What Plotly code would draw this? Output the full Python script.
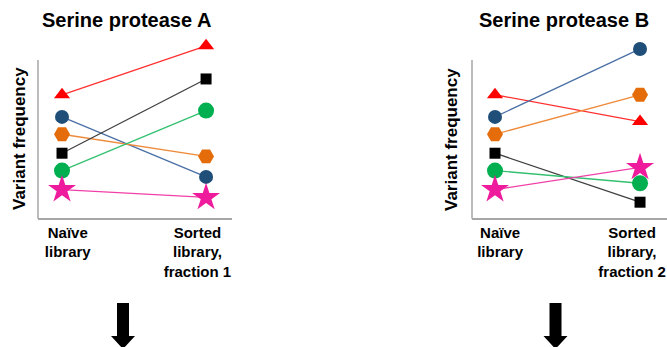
import plotly.graph_objects as go

W, H = 667, 347

stages = ["Naïve<br>library", "Sorted<br>library,<br>fraction 1"]
stages_b = ["Naïve<br>library", "Sorted<br>library,<br>fraction 2"]

variants = ["triangle", "blue", "hexagon", "square", "circle", "star"]
naive_a = [7.8, 6.4, 5.3, 4.1, 3.0, 1.8]
sorted_a = [10.9, 2.6, 3.9, 8.8, 6.8, 1.3]
naive_b = [7.8, 6.4, 5.3, 4.1, 3.0, 1.8]
sorted_b = [6.1, 10.7, 7.8, 1.0, 2.2, 3.2]

symbols = ["triangle-up", "circle", "hexagon2", "square", "circle", "star"]
sizes = [14, 14, 16, 11, 16, 21]
marker_colors = ["#FF0000", "#1F4E79", "#E46C0A", "#000000", "#00B050", "#EE1C9C"]
line_colors = ["#FF3030", "#4A6FA5", "#EE8A3A", "#404040", "#33C070", "#F040A8"]

fig = go.Figure()

def add_panel(naive, sorted_, xa, ya):
    for i in range(len(variants)):
        fig.add_trace(go.Scatter(
            x=[0, 1], y=[naive[i], sorted_[i]], mode="lines+markers",
            xaxis=xa, yaxis=ya, cliponaxis=False, showlegend=False,
            hoverinfo="skip",
            line=dict(color=line_colors[i], width=1.3),
            marker=dict(symbol=symbols[i], size=sizes[i], color=marker_colors[i],
                        line=dict(width=0)),
        ))

add_panel(naive_a, sorted_a, "x", "y")
add_panel(naive_b, sorted_b, "x2", "y2")

def px_x(p):
    return p / W

def px_y(p):
    return 1 - p / H

axis_common = dict(showgrid=False, zeroline=False, linecolor="#A6A6A6",
                   linewidth=1.5, ticks="", mirror=False, fixedrange=True)
tickfont = dict(size=15, family="Liberation Sans, Arial", weight="bold", color="#000000")
y_top = (218 - 28) / 15.8

fig.update_layout(
    width=W, height=H, margin=dict(l=0, r=0, t=0, b=0),
    paper_bgcolor="white", plot_bgcolor="rgba(0,0,0,0)",
    font=dict(family="Liberation Sans, Arial, sans-serif", color="#000000"),
    xaxis=dict(domain=[px_x(38), px_x(232)], range=[-0.1667, 1.18], showline=True,
               tickmode="array", tickvals=[0.04, 0.94], ticktext=stages,
               tickfont=tickfont, anchor="y", **axis_common),
    yaxis=dict(domain=[px_y(218), px_y(28)], range=[0, y_top], showticklabels=False,
               showline=False, anchor="x", **axis_common),
    xaxis2=dict(domain=[px_x(472), 1.0], range=[-0.1586, 1.186], showline=True,
                tickmode="array", tickvals=[0.035, 0.945], ticktext=stages_b,
                tickfont=tickfont, anchor="y2", **axis_common),
    yaxis2=dict(domain=[px_y(218), px_y(28)], range=[0, y_top], showticklabels=False,
                showline=False, anchor="x2", **axis_common),
)

annots = [
    dict(text="<b>Serine protease A</b>", x=px_x(126), y=px_y(20), font=dict(size=20)),
    dict(text="<b>Serine protease B</b>", x=px_x(564), y=px_y(20), font=dict(size=20)),
    dict(text="<b>Variant frequency</b>", x=px_x(20), y=px_y(139), font=dict(size=17), textangle=-90),
    dict(text="<b>Variant frequency</b>", x=px_x(452), y=px_y(139), font=dict(size=17), textangle=-90),
]
for a in annots:
    fig.add_annotation(xref="paper", yref="paper", showarrow=False,
                       xanchor="center", yanchor="middle", **a)

# vertical axis lines (left edge of each panel)
for x0 in [38, 472]:
    fig.add_shape(type="line", xref="paper", yref="paper",
                  x0=px_x(x0), x1=px_x(x0), y0=px_y(218.7), y1=px_y(60),
                  line=dict(color="#A6A6A6", width=1.5))

def arrow_path(cx):
    pts = [(cx - 6, 303), (cx + 6, 303), (cx + 6, 336), (cx + 12, 336), (cx, 349),
           (cx - 12, 336), (cx - 6, 336)]
    return "M " + " L ".join(f"{px_x(x):.5f},{px_y(y):.5f}" for x, y in pts) + " Z"

for cx in [123, 555.5]:
    fig.add_shape(type="path", xref="paper", yref="paper", path=arrow_path(cx),
                  fillcolor="#000000", line=dict(width=0))

fig.write_html("out.html", config={"displayModeBar": False, "staticPlot": True},
               post_script="document.body.style.margin='0';document.body.style.overflow='hidden';")
